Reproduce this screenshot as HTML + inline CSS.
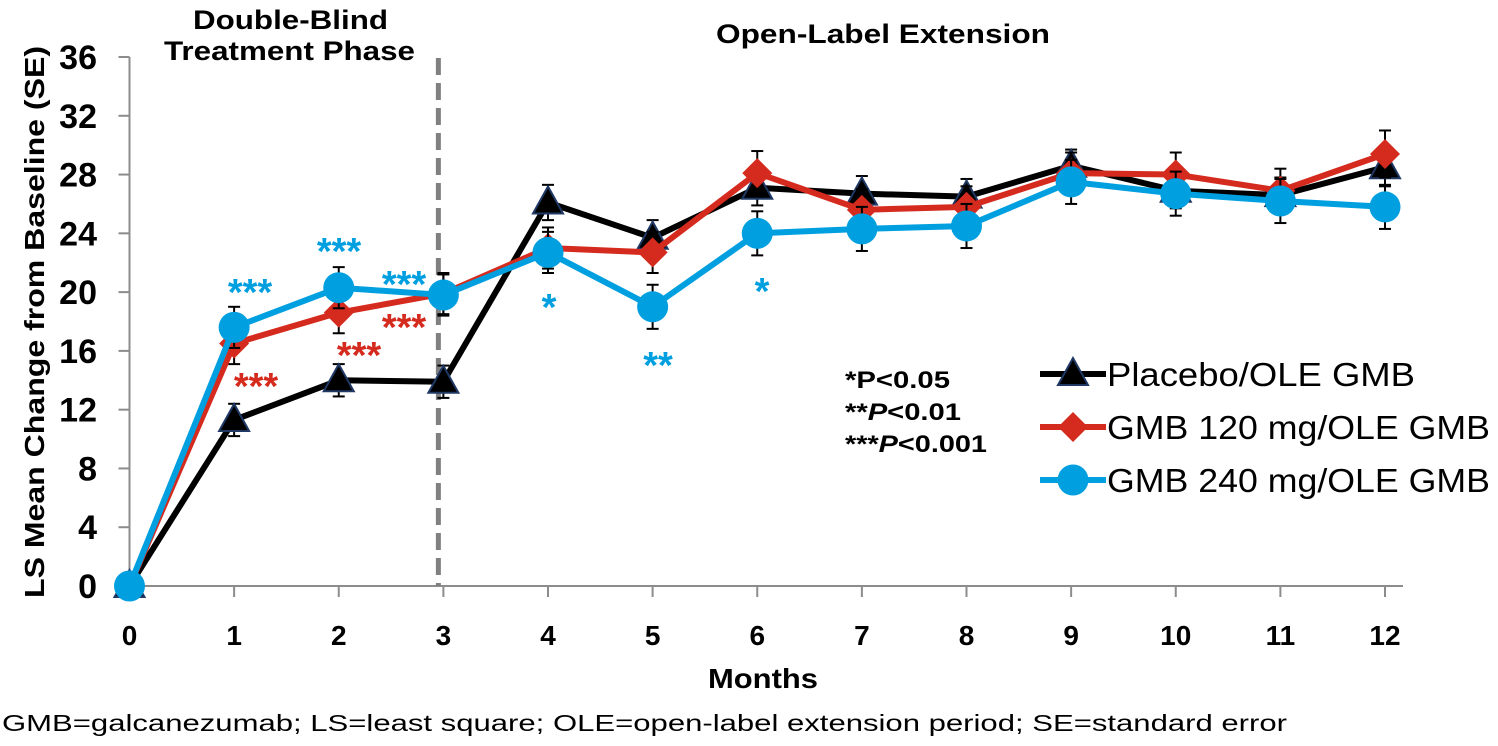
<!DOCTYPE html>
<html><head><meta charset="utf-8"><style>
body{margin:0;background:#fff;width:1498px;height:741px;overflow:hidden;font-family:"Liberation Sans",Arial,sans-serif}
svg text{font-family:"Liberation Sans",Arial,sans-serif}
</style></head><body>
<svg id="chart" width="1498" height="741" xmlns="http://www.w3.org/2000/svg"></svg>
<script>
const months=[0,1,2,3,4,5,6,7,8,9,10,11,12];
const yTicks=[0,4,8,12,16,20,24,28,32,36];
const placebo=[0,11.3,14.0,13.9,26.1,23.7,27.1,26.7,26.5,28.6,26.9,26.6,28.5];
const gmb120=[0,16.5,18.6,19.9,23.0,22.7,28.1,25.6,25.8,28.1,28.0,26.9,29.4];
const gmb240=[0,17.6,20.3,19.8,22.7,19.0,24.0,24.3,24.5,27.5,26.7,26.2,25.8];
const sePlacebo=[0,1.1,1.1,1.1,1.2,1.2,1.2,1.2,1.2,1.1,1.2,1.2,1.3];
const se120=[0,1.4,1.4,1.4,1.4,1.4,1.5,1.4,1.4,1.4,1.5,1.5,1.6];
const se240=[0,1.4,1.4,1.4,1.4,1.5,1.5,1.5,1.5,1.5,1.5,1.5,1.5];
const seriesNames=["Placebo/OLE GMB","GMB 120 mg/OLE GMB","GMB 240 mg/OLE GMB"];

const NS="http://www.w3.org/2000/svg";
const svg=document.getElementById('chart');
const X0=129.5,X1=1385,Y0=586,Y1=57;
const xs=m=>X0+(X1-X0)*m/12;
const ys=v=>Y0-(Y0-Y1)*v/36;
function el(tag,attrs,parent){const e=document.createElementNS(NS,tag);for(const k in attrs)e.setAttribute(k,attrs[k]);(parent||svg).appendChild(e);return e;}
function txt(s,attrs,parent){const t=el('text',attrs,parent);t.textContent=s;return t;}

const ax=el('g',{});


el('line',{x1:X0,y1:Y1,x2:X0,y2:Y0,stroke:'#8c8c8c','stroke-width':2},ax);
el('line',{x1:X0,y1:Y0,x2:X1+18,y2:Y0,stroke:'#8c8c8c','stroke-width':2},ax);
yTicks.forEach(v=>{
  el('line',{x1:X0-11,y1:ys(v),x2:X0,y2:ys(v),stroke:'#8c8c8c','stroke-width':2},ax);
  const t=txt(String(v),{x:97,y:ys(v)+12,'text-anchor':'end','font-size':34,'font-weight':'bold',fill:'#000'},ax);
  
  
});
months.forEach(m=>{
  el('line',{x1:xs(m),y1:Y0,x2:xs(m),y2:Y0+11,stroke:'#8c8c8c','stroke-width':2},ax);
  const t=txt(String(m),{x:xs(m),y:645,'text-anchor':'middle','font-size':28,'font-weight':'bold',fill:'#000'},ax);
  
  
});
const xt=txt('Months',{x:708,y:688,'font-size':28,'font-weight':'bold',textLength:110,lengthAdjust:'spacingAndGlyphs'});


const yt=txt('LS Mean Change from Baseline (SE)',{x:0,y:0,transform:'translate(44,322) rotate(-90)','text-anchor':'middle','font-size':28,'font-weight':'bold',textLength:552,lengthAdjust:'spacingAndGlyphs'});



const dv=el('line',{x1:xs(3)-5,y1:58,x2:xs(3)-5,y2:Y0,stroke:'#808080','stroke-width':5,'stroke-dasharray':'17,8'});


const p1=txt('Double-Blind',{x:193,y:29,'font-size':27,'font-weight':'bold',textLength:195,lengthAdjust:'spacingAndGlyphs'});


const p2=txt('Treatment Phase',{x:164,y:60,'font-size':27,'font-weight':'bold',textLength:251,lengthAdjust:'spacingAndGlyphs'});


const p3=txt('Open-Label Extension',{x:716,y:43,'font-size':27,'font-weight':'bold',textLength:334,lengthAdjust:'spacingAndGlyphs'});



function marker(kind,x,y,g){
  if(kind==='tri') return el('polygon',{points:`${x},${y-16} ${x-15},${y+11} ${x+15},${y+11}`,fill:'#000',stroke:'#1f3864','stroke-width':2},g);
  if(kind==='dia') return el('polygon',{points:`${x},${y-15} ${x+15},${y} ${x},${y+15} ${x-15},${y}`,fill:'#d52b1e'},g);
  return el('circle',{cx:x,cy:y,r:15.5,fill:'#009fdf'},g);
}
function series(vals,se,color,kind,name){
  const g=el('g',{});
  
  
  vals.forEach((v,i)=>{ if(se[i]>0){
    const x=xs(i);
    el('line',{x1:x,y1:ys(v+se[i]),x2:x,y2:ys(v-se[i]),stroke:'#000','stroke-width':2},g);
    el('line',{x1:x-6,y1:ys(v+se[i]),x2:x+6,y2:ys(v+se[i]),stroke:'#000','stroke-width':2},g);
    el('line',{x1:x-6,y1:ys(v-se[i]),x2:x+6,y2:ys(v-se[i]),stroke:'#000','stroke-width':2},g);
  }});
  el('polyline',{points:vals.map((v,i)=>xs(i)+','+ys(v)).join(' '),fill:'none',stroke:color,'stroke-width':6,'stroke-linejoin':'round'},g);
  vals.forEach((v,i)=>{const m=marker(kind,xs(i),ys(v),g);
    
    });
}
series(placebo,sePlacebo,'#000','tri','placebo-series');
series(gmb120,se120,'#d52b1e','dia','gmb120-series');
series(gmb240,se240,'#009fdf','circ','gmb240-series');

const stars=[['***',250,305,'#009fdf'],['***',339,264,'#009fdf'],['***',404,297,'#009fdf'],['***',256,399,'#d52b1e'],['***',359,368,'#d52b1e'],['***',404,340,'#d52b1e'],['*',549,320,'#009fdf'],['**',658,378,'#009fdf'],['*',762,304,'#009fdf']];
stars.forEach(s=>{const t=txt(s[0],{x:s[1],y:s[2],'text-anchor':'middle','font-size':38,'font-weight':'bold',fill:s[3]});
  
  });

const pv=el('g',{});


const lines=[['*','<0.05',true,105],['**','<0.01',false,116],['***','<0.001',false,142]];
lines.forEach((l,i)=>{const t=el('text',{x:845,y:388+i*32,'font-size':24,'font-weight':'bold',textLength:l[3],lengthAdjust:'spacingAndGlyphs'},pv);
  t.innerHTML=l[0]+(l[2]?'P':'<tspan font-style="italic">P</tspan>')+l[1];});

const lg=el('g',{});


const kinds=[['#000','tri'],['#d52b1e','dia'],['#009fdf','circ']];
const legLens=[308,383,383];
seriesNames.forEach((n,i)=>{
  const y=374+i*53;
  const e=el('g',{},lg);
  
  
  el('line',{x1:1040,y1:y,x2:1106,y2:y,stroke:kinds[i][0],'stroke-width':6},e);
  marker(kinds[i][1],1073,y,e);
  txt(n,{x:1107,y:y+12,'font-size':33,fill:'#000',textLength:legLens[i],lengthAdjust:'spacingAndGlyphs'},e);
});

const fn=txt('GMB=galcanezumab; LS=least square; OLE=open-label extension period; SE=standard error',{x:2,y:731,'font-size':23,textLength:1285,lengthAdjust:'spacingAndGlyphs'});


</script>
</body></html>
